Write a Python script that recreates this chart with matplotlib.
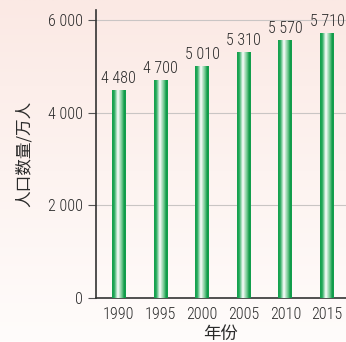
import numpy as np
import matplotlib
matplotlib.use("Agg")
import matplotlib.pyplot as plt
from matplotlib.colors import LinearSegmentedColormap

plt.rcParams['font.family'] = ['Roboto Condensed', 'Noto Sans CJK SC', 'DejaVu Sans']
cjk = ['Noto Sans CJK SC', 'DejaVu Sans']

# 人口数据
years = ['1990', '1995', '2000', '2005', '2010', '2015']
population = [4480, 4700, 5010, 5310, 5570, 5710]
y_ticks = [0, 2000, 4000, 6000]

fig = plt.figure(figsize=(3.46, 3.42), dpi=100)

# 背景渐变
bg = fig.add_axes([0, 0, 1, 1], zorder=-10)
grad = np.linspace(0, 1, 256).reshape(-1, 1)
bg_cmap = LinearSegmentedColormap.from_list('bg', ['#fbe9e4', '#fdf3f0', '#fffcfb'])
bg.imshow(grad, aspect='auto', cmap=bg_cmap, extent=[0, 1, 0, 1], origin='upper')
bg.axis('off')

ax = fig.add_axes([0.277, 0.129, 0.723, 0.842])
ax.patch.set_alpha(0)

# 柱子的绿色渐变
bar_cmap = LinearSegmentedColormap.from_list(
    'bar', [(0, '#12a04c'), (0.15, '#22a858'), (0.42, '#ffffff'),
            (0.75, '#5cc080'), (0.88, '#0f9a48'), (1, '#13a04e')])
bar_grad = np.linspace(0, 1, 64).reshape(1, -1)
width = 0.33
x = np.arange(len(years))
for xi, v in zip(x, population):
    ax.imshow(bar_grad, cmap=bar_cmap, aspect='auto',
              extent=[xi - width / 2, xi + width / 2, 0, v], zorder=3)
    ax.text(xi, v + 90, f'{v:,}'.replace(',', ' '), ha='center', va='bottom',
            fontsize=11.5, fontweight='light', color='#2a2a2a', zorder=4)

ax.set_xlim(-0.553, 5.457)
ax.set_ylim(0, 6220)

for t in y_ticks[1:]:
    ax.axhline(t, color='#c9c5c4', lw=0.8, zorder=1)

ax.set_yticks(y_ticks)
ax.set_yticklabels([f'{t:,}'.replace(',', ' ') for t in y_ticks],
                   fontsize=11.5, fontweight='light', color='#2a2a2a')
ax.set_xticks(x)
ax.set_xticklabels(years, fontsize=11.5, fontweight='light', color='#2a2a2a')
ax.tick_params(axis='y', length=5.8, width=0.8, color='#555555', pad=3.5)
ax.tick_params(axis='x', length=0, pad=6.5)

for s in ['top', 'right']:
    ax.spines[s].set_visible(False)
for s in ['left', 'bottom']:
    ax.spines[s].set_color('#333333')
    ax.spines[s].set_linewidth(1.2)

ax.set_ylabel('人口数量/万人', fontsize=12, fontweight='light', color='#2a2a2a',
              labelpad=11, family=cjk)
ax.set_xlabel('年份', fontsize=12.5, fontweight='light', color='#2a2a2a',
              labelpad=2, family=cjk)

fig.savefig('out.png', dpi=100)
